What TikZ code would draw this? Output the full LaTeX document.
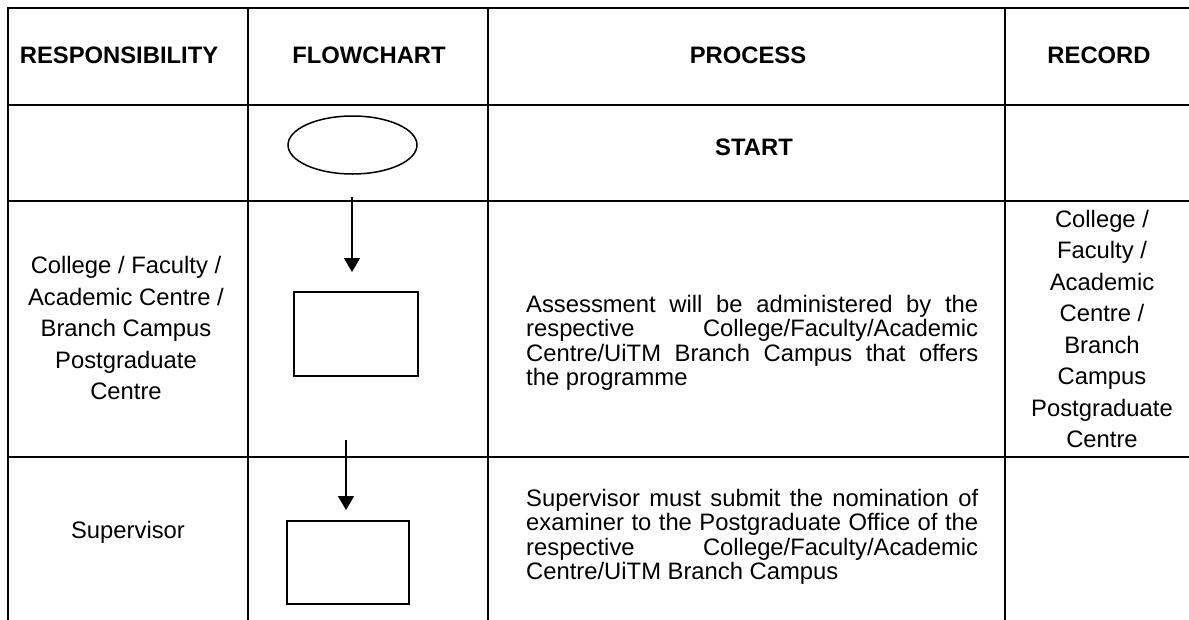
\documentclass[tikz,border=0pt]{standalone}
\usepackage{fontspec}
\setmainfont{Liberation Sans}
\usetikzlibrary{arrows.meta, shapes.geometric}

\tikzset{
  gridline/.style={line width=2.2pt, line cap=rect},
  headtext/.style={font=\fontsize{23.8}{28}\selectfont\bfseries, inner sep=0pt},
  celltext/.style={font=\fontsize{23.8}{31.5}\selectfont, align=center, inner sep=0pt},
  proctext/.style={font=\fontsize{23.8}{24.5}\selectfont, text width=452pt, align=justify, inner sep=0pt, anchor=west},
  startoval/.style={draw, ellipse, line width=1.5pt, minimum width=129pt, minimum height=58pt, inner sep=0pt},
  procbox/.style={draw, rectangle, line width=1.8pt, inner sep=0pt},
  flowarrow/.style={-{Triangle[length=14pt, width=16pt]}, line width=1.3pt},
}

\begin{document}
\begin{tikzpicture}[x=1pt, y=-1pt]
  \useasboundingbox (0,0) rectangle (1189,619);

  % table rules
  \foreach \y in {8, 105, 201, 457}
    \draw[gridline] (8,\y) -- (1189,\y);
  \foreach \x in {8, 248, 488, 1005}
    \draw[gridline] (\x,8) -- (\x,619);

  % headings
  \node[headtext] (hresp) at (119,55) {RESPONSIBILITY};
  \node[headtext] (hflow) at (369,55) {FLOWCHART};
  \node[headtext] (hproc) at (748,55) {PROCESS};
  \node[headtext] (hrec) at (1099,55) {RECORD};

  % start row
  \node[startoval] (start) at (352.5,145) {};
  \node[headtext] (tstart) at (754,147) {START};

  % assessment row
  \coordinate (a1top) at (352,197);
  \coordinate (a1tip) at (352,272);
  \draw[flowarrow] (a1top) -- (a1tip);
  \node[procbox, minimum width=124pt, minimum height=84pt] (box1) at (356,334) {};
  \node[celltext] (resp1) at (126,328)
    {College / Faculty /\\ Academic Centre /\\ Branch Campus\\ Postgraduate\\ Centre};
  \node[proctext] (proc1) at (526,343)
    {Assessment will be administered by the\linebreak respective College/Faculty/Academic\linebreak Centre/UiTM Branch Campus that offers\linebreak the programme};
  \node[celltext] (rec1) at (1102,329)
    {College /\\ Faculty /\\ Academic\\ Centre /\\ Branch\\ Campus\\ Postgraduate\\ Centre};

  % nomination row
  \coordinate (a2top) at (346,440);
  \coordinate (a2tip) at (346,510);
  \draw[flowarrow] (a2top) -- (a2tip);
  \node[procbox, minimum width=122pt, minimum height=83pt] (box2) at (348,562.5) {};
  \node[celltext] (resp2) at (128,532) {Supervisor};
  \node[proctext] (proc2) at (526,537)
    {Supervisor must submit the nomination of\linebreak examiner to the Postgraduate Office of the\linebreak respective College/Faculty/Academic\linebreak Centre/UiTM Branch Campus};
\end{tikzpicture}
\end{document}
